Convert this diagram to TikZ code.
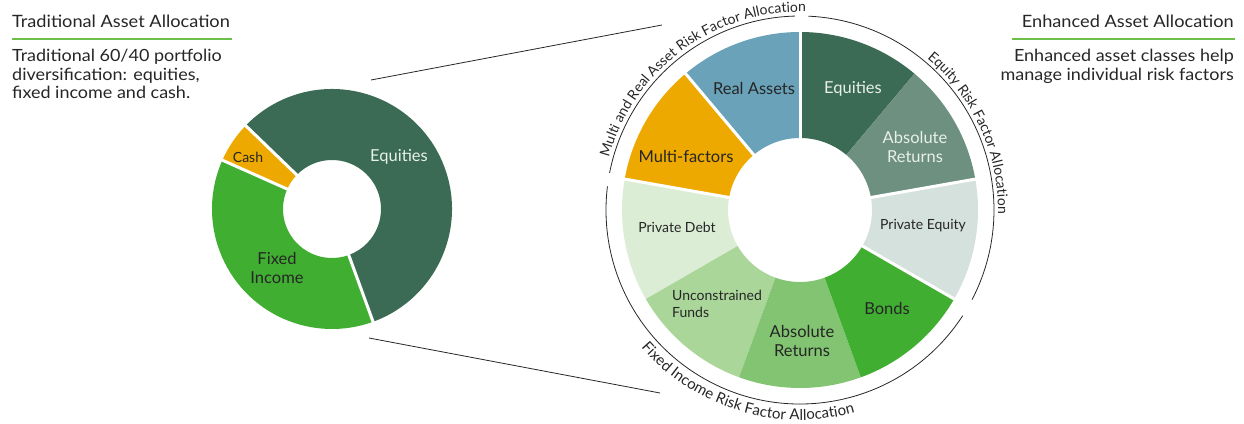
\documentclass[tikz,border=0pt]{standalone}
\usepackage{fontspec}
\setmainfont{Lato}
\newfontfamily\headfont{Lato}[FakeStretch=1.07]
\usetikzlibrary{decorations.text}
\definecolor{eqgreen}{HTML}{3B6B55}
\definecolor{absgreen}{HTML}{6E9080}
\definecolor{pegrey}{HTML}{D5E1DC}
\definecolor{bondgreen}{HTML}{40AE30}
\definecolor{absret}{HTML}{82C472}
\definecolor{uncon}{HTML}{AAD69A}
\definecolor{pdebt}{HTML}{DCEDD5}
\definecolor{multi}{HTML}{EDA900}
\definecolor{realblue}{HTML}{6AA2BA}
\definecolor{rulegreen}{HTML}{6CC04A}
\definecolor{ink}{HTML}{262626}
\definecolor{lighttext}{HTML}{E8F0EA}
\newcommand\arcfont{\fontsize{14}{16}\selectfont}
\newcommand\arcfontb{\fontsize{15}{17}\selectfont}
\newcommand\wseg[3]{\fill[#1] (#2:72) -- (#2:178) arc[start angle=#2,end angle=#3,radius=178] -- (#3:72) arc[start angle=#3,end angle=#2,radius=72] -- cycle;}
\newcommand\dseg[3]{\fill[#1] (#2:49) -- (#2:120) arc[start angle=#2,end angle=#3,radius=120] -- (#3:49) arc[start angle=#3,end angle=#2,radius=49] -- cycle;}
\begin{document}
\begin{tikzpicture}[x=1pt,y=1pt,
  lbl/.style={font=\fontsize{16.5}{19.5}\selectfont, text=ink, align=center, inner sep=0pt},
  lblw/.style={lbl, text=lighttext},
  lbls/.style={font=\fontsize{14}{16.5}\selectfont, text=ink, align=center, inner sep=0pt},
  title/.style={font=\headfont\fontsize{17}{19}\selectfont, text=ink, inner sep=0pt},
  body/.style={font=\headfont\fontsize{16.8}{18.7}\selectfont, text=ink, inner sep=0pt},
  underline/.style={rulegreen, line width=1.2pt},
  link/.style={ink, line width=0.8pt},
  bracket/.style={ink, line width=0.8pt},
  gap/.style={white, line width=3pt}]
\useasboundingbox (0,0) rectangle (1244,423);

% headings
\node[title, anchor=base west] (tl) at (12,395.5) {Traditional Asset Allocation};
\draw[underline] (12,384) -- (232,384);
\node[body, anchor=north west, align=left] (tlb) at (12,374) {Traditional 60/40 portfolio\\diversification: equities,\\fixed income and cash.};
\node[title, anchor=base east] (tr) at (1234,395.5) {Enhanced Asset Allocation};
\draw[underline] (1012,384) -- (1235,384);
\node[body, anchor=north east, align=right] (trb) at (1234,374) {Enhanced asset classes help\\manage individual risk factors};

% connectors
\coordinate (lt) at (371,343);
\coordinate (rt) at (662,398);
\coordinate (lb) at (369,85);
\coordinate (rb) at (660,30);
\draw[link] (lt) -- (rt);
\draw[link] (lb) -- (rb);

% traditional donut
\begin{scope}[shift={(332,214)}]
\dseg{eqgreen}{-70}{136}
\dseg{multi}{136}{156}
\dseg{bondgreen}{156}{290}
\foreach \a in {-70,136,156} \draw[gap] (\a:45) -- (\a:124);
\end{scope}
\node[lblw] (deq) at (399,266) {Equities};
\node[lbls] (dcash) at (248,266) {Cash};
\node[lbl] (dfix) at (277,155) {Fixed\\Income};

% enhanced wheel
\begin{scope}[shift={(800,213)}]
\wseg{eqgreen}{50}{90}
\wseg{realblue}{90}{130}
\wseg{multi}{130}{170}
\wseg{pdebt}{170}{210}
\wseg{uncon}{210}{250}
\wseg{absret}{250}{290}
\wseg{bondgreen}{290}{330}
\wseg{pegrey}{330}{370}
\wseg{absgreen}{10}{50}
\foreach \a in {90,130,170,10,330} \draw[gap] (\a:68) -- (\a:182);
\draw[bracket] (169:194) arc[start angle=169,end angle=91.5,radius=194];
\draw[bracket] (87.5:194) arc[start angle=87.5,end angle=-27.5,radius=194];
\draw[bracket] (-33:194) arc[start angle=-33,end angle=-187,radius=194];
\path[decorate, decoration={text along path, text align=center,
  text={|\arcfont\color{ink}|Multi and Real Asset Risk Factor Allocation}}]
  (166:198) arc[start angle=166,end angle=87,radius=198];
\path[decorate, decoration={text along path, text align=center,
  text={|\arcfont\color{ink}|Equity Risk Factor Allocation}}]
  (60:198) arc[start angle=60,end angle=-11,radius=198];
\path[decorate, decoration={text along path, text align=center,
  text={|\arcfontb\color{ink}|Fixed Income Risk Factor Allocation}}]
  (215:210) arc[start angle=215,end angle=291,radius=210];
\end{scope}
\node[lbl] (wreal) at (754,335) {Real Assets};
\node[lblw] (weq) at (853,334) {Equities};
\node[lblw] (wabs1) at (915,276) {Absolute\\Returns};
\node[lbls] (wpe) at (923,197) {Private Equity};
\node[lbl] (wbond) at (887,115) {Bonds};
\node[lbl] (wabs2) at (802,82) {Absolute\\Returns};
\node[lbls, anchor=west, align=left] (wunc) at (672,119) {Unconstrained\\Funds};
\node[lbls] (wpd) at (677,196) {Private Debt};
\node[lbl] (wmulti) at (686,267) {Multi-factors};
\end{tikzpicture}
\end{document}
